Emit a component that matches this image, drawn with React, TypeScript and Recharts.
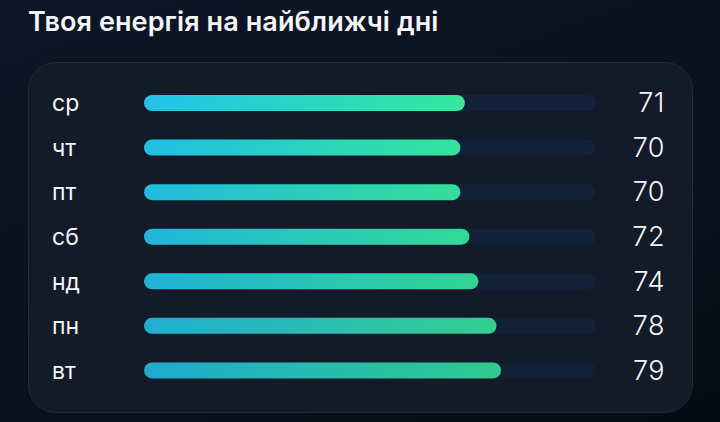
import { BarChart, Bar, XAxis, YAxis, Cell } from 'recharts';

const days = ['ср', 'чт', 'пт', 'сб', 'нд', 'пн', 'вт'];
const energy = [71, 70, 70, 72, 74, 78, 79];

const data = days.map((day, i) => ({ day, energy: energy[i] }));

const font = 'Inter, "Noto Sans", sans-serif';

const DayTick = (props: any) => {
  const { y, payload } = props;
  return (
    <text x={24} y={y} dy={8} fill="#f3f5f8" fontSize={23} fontFamily={font} textAnchor="start">
      {payload.value}
    </text>
  );
};

const ValueTick = (props: any) => {
  const { y, index } = props;
  return (
    <text x={637} y={y} dy={9} fill="#f3f5f8" fontSize={27} fontWeight={300} fontFamily={font} textAnchor="end" letterSpacing={0.5}>
      {energy[index]}
    </text>
  );
};

export default function App() {
  return (
    <div
      style={{
        position: 'absolute',
        left: 0,
        top: 0,
        width: 720,
        height: 422,
        overflow: 'hidden',
        background: 'linear-gradient(160deg, #0d1625 0%, #0a111e 60%, #060a13 100%)',
        fontFamily: font,
      }}
    >
      <div
        style={{
          position: 'absolute',
          left: 28,
          top: 5,
          color: '#f5f7fa',
          fontSize: 27,
          fontWeight: 600,
          letterSpacing: 0.1,
        }}
      >
        Твоя енергія на найближчі дні
      </div>
      <div
        style={{
          position: 'absolute',
          left: 28,
          top: 62,
          width: 663,
          height: 349,
          borderRadius: 28,
          background: '#131a28',
          border: '1px solid #222b3a',
        }}
      />
      <div style={{ position: 'absolute', left: 28, top: 62 }}>
        <BarChart
          width={665}
          height={350}
          data={data}
          layout="vertical"
          margin={{ top: 19, right: 0, bottom: 19, left: 0 }}
        >
          <defs>
            <linearGradient id="energyFill" x1="0" y1="0" x2="1" y2="0">
              <stop offset="0%" stopColor="#21c3e9" />
              <stop offset="100%" stopColor="#36e89d" />
            </linearGradient>
          </defs>
          <XAxis type="number" domain={[0, 100]} hide />
          <YAxis
            yAxisId="left"
            type="category"
            dataKey="day"
            width={116}
            axisLine={false}
            tickLine={false}
            tick={<DayTick />}
          />
          <YAxis
            yAxisId="right"
            orientation="right"
            type="category"
            dataKey="day"
            width={97}
            axisLine={false}
            tickLine={false}
            tick={<ValueTick />}
          />
          <Bar
            yAxisId="left"
            dataKey="energy"
            barSize={16}
            radius={8}
            fill="url(#energyFill)"
            background={{ fill: '#13223a', radius: 8 }}
            isAnimationActive={false}
          >
            {data.map((d, i) => (
              <Cell key={d.day} fill="url(#energyFill)" fillOpacity={1 - i * 0.025} />
            ))}
          </Bar>
        </BarChart>
      </div>
    </div>
  );
}
